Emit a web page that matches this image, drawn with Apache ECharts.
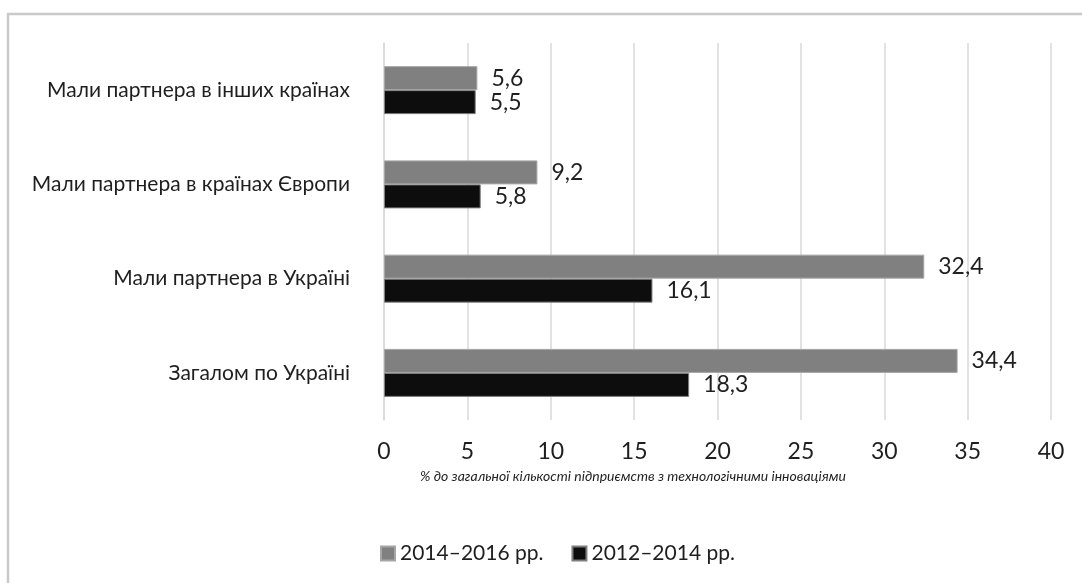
<!DOCTYPE html>
<html>
<head>
<meta charset="utf-8">
<script src="https://cdn.jsdelivr.net/npm/echarts@6/dist/echarts.min.js"></script>
<style>
  html, body { margin: 0; padding: 0; background: #fff; }
  #chart { width: 1082px; height: 583px; }
</style>
</head>
<body>
<div id="chart"></div>
<script>
// категорії знизу вгору
const categories = [
  'Загалом по Україні',
  'Мали партнера в Україні',
  'Мали партнера в країнах Європи',
  'Мали партнера в інших країнах'
]
const seriesNames = ['2014–2016 рр.', '2012–2014 рр.']
const values2014_2016 = [34.4, 32.4, 9.2, 5.6]
const values2012_2014 = [18.3, 16.1, 5.8, 5.5]
const xTicks = [0, 5, 10, 15, 20, 25, 30, 35, 40]
const axisTitle = '% до загальної кількості підприємств з технологічними інноваціями'

const FONT = 'Lato'
const comma = v => String(v).replace('.', ',')

const myChart = echarts.init(document.getElementById('chart'))
const option = {
  animation: false,
  textStyle: { fontFamily: FONT },
  graphic: [
    {
      type: 'rect',
      shape: { x: 8, y: 14, width: 1200, height: 700 },
      style: { fill: 'none', stroke: '#c9c9c9', lineWidth: 2.5 },
      silent: true
    },
    {
      type: 'text',
      left: 420,
      top: 469,
      style: {
        text: axisTitle,
        font: 'italic 14px ' + FONT,
        fill: '#1f1f1f'
      }
    }
  ],
  legend: {
    left: 375,
    top: 538,
    itemWidth: 14,
    itemHeight: 14,
    itemGap: 28,
    icon: 'rect',
    textStyle: { fontSize: 21, color: '#1f1f1f', fontFamily: FONT },
    data: seriesNames
  },
  grid: { left: 384, right: 31, top: 43, bottom: 163, containLabel: false },
  xAxis: {
    type: 'value',
    min: xTicks[0],
    max: xTicks[xTicks.length - 1],
    interval: 5,
    axisLine: { show: false },
    axisTick: { show: false },
    splitLine: { lineStyle: { color: '#d9d9d9', width: 1.5 } },
    axisLabel: { fontSize: 23, color: '#1f1f1f', margin: 20, fontFamily: FONT }
  },
  yAxis: {
    type: 'category',
    data: categories,
    axisLine: { lineStyle: { color: '#d9d9d9', width: 1.5 } },
    axisTick: { show: false },
    axisLabel: { fontSize: 21, color: '#1f1f1f', margin: 34, fontFamily: FONT }
  },
  series: [
    {
      name: seriesNames[0],
      type: 'bar',
      data: values2014_2016,
      barWidth: 24,
      barGap: '0%',
      itemStyle: { color: '#808080', borderColor: '#a6a6a6', borderWidth: 1 },
      label: {
        show: true, position: 'right', distance: 14,
        fontSize: 23, color: '#1f1f1f', fontFamily: FONT,
        formatter: p => comma(p.value)
      }
    },
    {
      name: seriesNames[1],
      type: 'bar',
      data: values2012_2014,
      barWidth: 24,
      barGap: '0%',
      itemStyle: { color: '#0d0d0d', borderColor: '#7f7f7f', borderWidth: 1 },
      label: {
        show: true, position: 'right', distance: 14,
        fontSize: 23, color: '#1f1f1f', fontFamily: FONT,
        formatter: p => comma(p.value)
      }
    }
  ]
}
myChart.setOption(option)
</script>
</body>
</html>
